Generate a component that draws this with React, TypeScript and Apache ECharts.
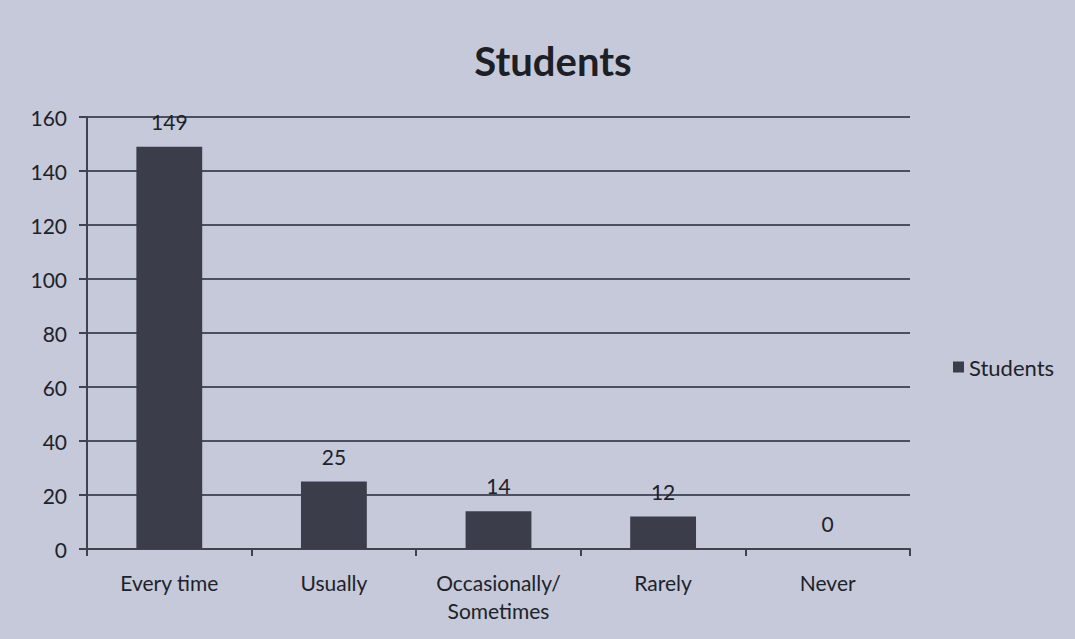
import React, { useEffect, useRef } from "react";
import * as echarts from "echarts";

const categories = ["Every time", "Usually", "Occasionally/\nSometimes", "Rarely", "Never"];
const studentValues = [149, 25, 14, 12, 0];
const seriesName = "Students";

export default function App() {
  const ref = useRef<HTMLDivElement>(null);
  useEffect(() => {
    document.body.style.margin = "0";
    const chart = echarts.init(ref.current!, null, { renderer: "svg" });
    const font = "Lato, 'Open Sans', sans-serif";
    chart.setOption({
      animation: false,
      backgroundColor: "#c6c9da",
      title: {
        text: "Students",
        left: 548,
        textAlign: "center",
        top: 36,
        textStyle: { fontSize: 40, fontWeight: "bold", color: "#1d1f26", fontFamily: font },
      },
      legend: {
        data: [seriesName],
        left: 948,
        top: 351,
        icon: "rect",
        itemWidth: 11,
        itemHeight: 11,
        itemGap: 5,
        textStyle: { fontSize: 22, color: "#202229", fontFamily: font },
      },
      grid: { left: 87, right: 165, top: 117, bottom: 90, containLabel: false },
      xAxis: {
        type: "category",
        data: categories,
        axisLine: { lineStyle: { color: "#40434f", width: 2 } },
        axisTick: { show: true, interval: 0, length: 7, lineStyle: { color: "#40434f", width: 2 } },
        axisLabel: { interval: 0, fontSize: 21, color: "#202229", fontFamily: font, margin: 19, lineHeight: 28 },
      },
      yAxis: {
        type: "value",
        min: 0,
        max: 160,
        interval: 20,
        axisLine: { show: true, lineStyle: { color: "#40434f", width: 2 } },
        axisTick: { show: true, length: 8, lineStyle: { color: "#40434f", width: 2 } },
        axisLabel: { fontSize: 21, color: "#202229", fontFamily: font, margin: 20 },
        splitLine: { lineStyle: { color: "#4b4f62", width: 2 } },
      },
      series: [
        {
          name: seriesName,
          type: "bar",
          data: studentValues,
          barWidth: "40%",
          itemStyle: { color: "#3b3e4a" },
          label: {
            show: true,
            position: "top",
            distance: 15,
            fontSize: 21,
            color: "#202229",
            fontFamily: font,
          },
        },
      ],
    });
    return () => chart.dispose();
  }, []);
  return <div ref={ref} style={{ width: 1075, height: 639 }} />;
}
